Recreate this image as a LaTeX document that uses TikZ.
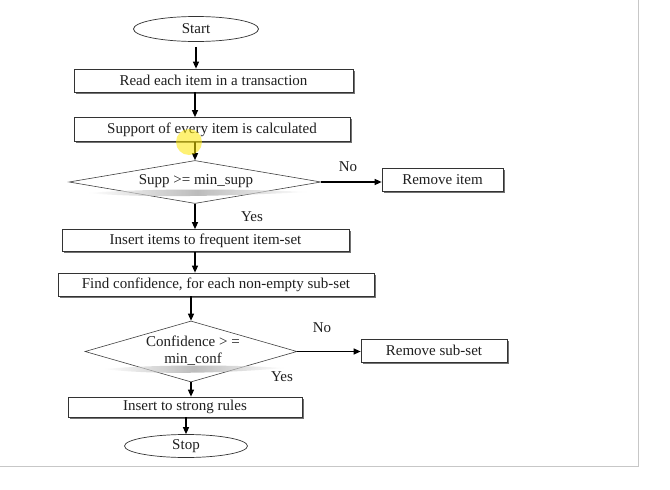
\documentclass[tikz,border=0pt]{standalone}
\usepackage{fontspec}
\setmainfont{Liberation Serif}
\usetikzlibrary{shapes.geometric,arrows.meta,shadows}
\begin{document}
\begin{tikzpicture}[x=1pt,y=-1pt,
  every node/.style={font=\fontsize{15}{17}\selectfont, text=black!88},
  box/.style={draw=black!80, line width=0.7pt, fill=white, rectangle, inner sep=0pt,
    drop shadow={shadow xshift=1.6pt, shadow yshift=-1.6pt, fill=black!55, opacity=1}},
  term/.style={draw=black!80, line width=0.7pt, ellipse, inner sep=0pt, fill=white},
  dec/.style={draw=black!75, line width=0.6pt, diamond, inner sep=0pt, fill=white},
  arr/.style={-{Triangle[length=7pt,width=6pt]}, line width=1.3pt, black},
  lab/.style={inner sep=0pt},
  frame/.style={draw=black!22, line width=1pt}
]
\useasboundingbox (0,0) rectangle (670,490);
\fill[white] (0,0) rectangle (670,490);
\draw[frame] (0,466) -- (638,466) -- (638,0);

\coordinate (ax) at (195,0);

\node[term, minimum width=125pt, minimum height=25pt] (start) at (196,29) {Start};
\node[box, minimum width=279pt, minimum height=23pt] (read) at (213.5,80.5) {Read each item in a transaction};
\node[box, minimum width=276pt, minimum height=24pt] (supp) at (212,129.5) {Support of every item is calculated};
\node[dec, minimum width=252pt, minimum height=43pt] (dec1) at (195,182) {};
\node[lab] (dec1t) at (196,181) {Supp >= min\_supp};
\node[box, minimum width=121pt, minimum height=23pt] (remitem) at (442.5,179.5) {Remove item};
\node[box, minimum width=287pt, minimum height=22pt] (ins) at (205.5,240.5) {Insert items to frequent item-set};
\node[box, minimum width=316pt, minimum height=23pt] (find) at (216,284.5) {Find confidence, for each non-empty sub-set};
\node[dec, minimum width=212pt, minimum height=61pt] (dec2) at (191,351.5) {};
\node[lab, align=center] (dec2t) at (193,351) {Confidence > =\\min\_conf};
\node[box, minimum width=146pt, minimum height=23pt] (remsub) at (434,350.5) {Remove sub-set};
\node[box, minimum width=234pt, minimum height=20pt] (strong) at (185,407) {Insert to strong rules};
\node[term, minimum width=123pt, minimum height=23pt] (stop) at (186,446) {Stop};

% diamond shadows
\shade[left color=white, right color=white, middle color=black!40, opacity=0.65]
  (88,193) .. controls (150,188) and (250,189) .. (307,192)
  .. controls (250,195) and (150,199) .. (88,193);
\shade[left color=white, right color=white, middle color=black!40, opacity=0.65]
  (104,369) .. controls (160,364) and (240,365) .. (284,368)
  .. controls (240,372) and (160,376) .. (104,369);

\node[lab] (no1) at (348,167) {No};
\node[lab] (yes1) at (252,217) {Yes};
\node[lab] (no2) at (322,328) {No};
\node[lab] (yes2) at (282,377) {Yes};

\draw[arr, shorten <=5pt] (start.south) -- (start.south |- read.north);
\draw[arr] (ax |- read.south) -- (ax |- supp.north);
\draw[arr] (ax |- supp.south) -- (dec1.north);
\draw[arr] (dec1.east) -- (dec1.east -| remitem.west);
\draw[arr] (dec1.south) -- (dec1.south |- ins.north);
\draw[arr] (ax |- ins.south) -- (ax |- find.north);
\draw[arr] (dec2.north |- find.south) -- (dec2.north);
\draw[arr] (dec2.east) -- (dec2.east -| remsub.west);
\draw[arr] (dec2.south) -- (dec2.south |- strong.north);
\draw[arr] (stop.north |- strong.south) -- (stop.north);

% cursor highlight
\fill[yellow!90!orange, opacity=0.55] (189,142) circle (13);
\end{tikzpicture}
\end{document}
